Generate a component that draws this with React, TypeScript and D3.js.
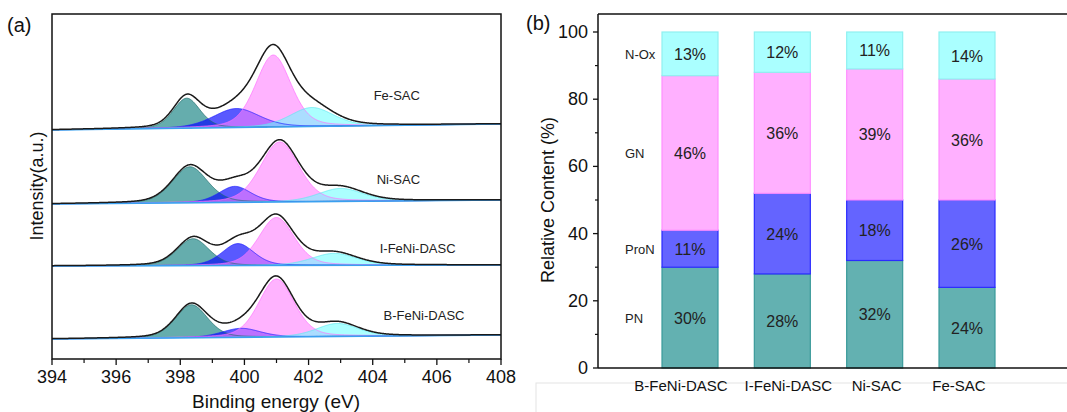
import React from "react";
import * as d3 from "d3";

// ---------- Panel (a): XPS N 1s fits ----------
const samples = ["B-FeNi-DASC", "I-FeNi-DASC", "Ni-SAC", "Fe-SAC"];
const componentNames = ["PN", "ProN", "GN", "N-Ox"];
// baseline (intensity offset) at 394 eV and 408 eV
const baseStart = [20, 93, 155, 229];
const baseEnd = [24, 94, 159, 235];
// peak centers (eV), heights (a.u.), widths (sigma, eV) per sample
const peakCenters = [
  [398.35, 399.9, 401.0, 402.9],
  [398.4, 399.8, 401.0, 402.8],
  [398.3, 399.7, 401.1, 403.0],
  [398.2, 399.75, 400.9, 402.1],
];
const peakHeights = [
  [33, 9, 58, 13],
  [27, 22, 48, 12],
  [36, 16, 60, 13],
  [30, 19, 72, 19],
];
const peakWidths = [
  [0.5, 0.6, 0.55, 0.65],
  [0.5, 0.5, 0.55, 0.7],
  [0.55, 0.5, 0.6, 0.7],
  [0.42, 0.72, 0.55, 0.68],
];
const energyTicks = [394, 396, 398, 400, 402, 404, 406, 408];

// ---------- Panel (b): relative content ----------
const categories = ["B-FeNi-DASC", "I-FeNi-DASC", "Ni-SAC", "Fe-SAC"];
const pnValues = [30, 28, 32, 24];
const pronValues = [11, 24, 18, 26];
const gnValues = [46, 36, 39, 36];
const noxValues = [13, 12, 11, 14];
const contentTicks = [0, 20, 40, 60, 80, 100];

const FONT = "'Liberation Sans', Arial, Helvetica, sans-serif";

const fillColors = ["#2a8d8d", "#0000ff", "#ff80ff", "#66ffff"];
const fillOpacity = [0.72, 0.65, 0.6, 0.55];
const edgeColors = ["#1d6b6b", "#1a1aff", "#ff70ff", "#5ee8f0"];

const barColors = ["#63b1b1", "#6464ff", "#ffb0ff", "#aaffff"];
const barStroke = ["#3a9a9a", "#2b2bff", "#ff90ff", "#90f0f0"];

function gl(e: number, c: number, h: number, s: number) {
  const dx = e - c;
  const g = Math.exp(-0.5 * (dx / s) * (dx / s));
  const gamma = s * 1.1774;
  const l = 1 / (1 + (dx / gamma) * (dx / gamma));
  return h * (0.7 * g + 0.3 * l);
}

export default function App() {
  // ---- panel (a) scales
  const xA = d3.scaleLinear().domain([394, 408]).range([52, 501]);
  const yA = d3.scaleLinear().domain([0, 345]).range([359, 14]);
  const grid = d3.range(394, 408.0001, 0.02);

  const labelAnchor = [
    { e: 405.6, dy: 19 },
    { e: 405.4, dy: 13 },
    { e: 404.8, dy: 20 },
    { e: 404.75, dy: 30 },
  ];

  const spectra = samples.map((name, si) => {
    const base = (e: number) =>
      baseStart[si] + ((baseEnd[si] - baseStart[si]) * (e - 394)) / 14;
    const comps = componentNames.map((_, ci) => {
      const f = (e: number) =>
        gl(e, peakCenters[si][ci], peakHeights[si][ci], peakWidths[si][ci]);
      const area = d3
        .area<number>()
        .x((e) => xA(e))
        .y0((e) => yA(base(e)))
        .y1((e) => yA(base(e) + f(e)));
      const top = d3
        .line<number>()
        .x((e) => xA(e))
        .y((e) => yA(base(e) + f(e)));
      return { area: area(grid) || "", top: top(grid) || "" };
    });
    const env = d3
      .line<number>()
      .x((e) => xA(e))
      .y((e) => {
        let s = base(e);
        componentNames.forEach((_, ci) => {
          s += gl(e, peakCenters[si][ci], peakHeights[si][ci], peakWidths[si][ci]);
        });
        return yA(s);
      })(grid) || "";
    const baseLine = d3
      .line<number>()
      .x((e) => xA(e))
      .y((e) => yA(base(e)))([394, 408]) || "";
    const lx = xA(labelAnchor[si].e);
    const ly = yA(baseStart[si]) - labelAnchor[si].dy;
    return { name, comps, env, baseLine, lx, ly };
  });

  // ---- panel (b) scales
  const xB = d3.scalePoint<string>().domain(categories).range([690, 967]);
  const yB = d3.scaleLinear().domain([0, 100]).range([368, 32]);
  const barW = 56;
  const table = categories.map((c, i) => ({
    cat: c,
    PN: pnValues[i],
    ProN: pronValues[i],
    GN: gnValues[i],
    "N-Ox": noxValues[i],
  }));
  const stacked = d3.stack<any>().keys(componentNames)(table);
  const minorB = d3.range(10, 100, 20);
  const minorA = d3.range(395, 408, 2);
  const catLabelShift = [-9, 6, 2, -8];

  return (
    <svg
      width={1067}
      height={412}
      style={{ position: "absolute", left: 0, top: 0, background: "#fff" }}
      fontFamily={FONT}
    >
      {/* ================= Panel (a) ================= */}
      <text x={7} y={32} fontSize={20} fill="#111">(a)</text>
      <clipPath id="clipA">
        <rect x={52} y={14} width={449} height={345} />
      </clipPath>
      <g clipPath="url(#clipA)">
        {spectra.map((sp) => (
          <g key={sp.name}>
            {sp.comps.map((c, ci) => (
              <path
                key={ci}
                d={c.area}
                fill={fillColors[ci]}
                fillOpacity={fillOpacity[ci]}
                stroke="none"
              />
            ))}
            {sp.comps.map((c, ci) => (
              <path
                key={"t" + ci}
                d={c.top}
                fill="none"
                stroke={edgeColors[ci]}
                strokeWidth={0.9}
                strokeOpacity={0.8}
              />
            ))}
            <path d={sp.baseLine} stroke="#3aa0f0" strokeWidth={1.6} fill="none" />
            <path d={sp.env} stroke="#1a1a1a" strokeWidth={1.5} fill="none" />
          </g>
        ))}
      </g>
      {spectra.map((sp) => (
        <text
          key={"l" + sp.name}
          x={sp.lx}
          y={sp.ly}
          fontSize={13}
          textAnchor="middle"
          fill="#222"
        >
          {sp.name}
        </text>
      ))}
      <rect x={52} y={14} width={449} height={345} fill="none" stroke="#111" strokeWidth={1.5} />
      {energyTicks.map((t) => (
        <g key={"xa" + t}>
          <line x1={xA(t)} x2={xA(t)} y1={359} y2={365} stroke="#111" strokeWidth={1.3} />
          <text x={xA(t)} y={383} fontSize={18} textAnchor="middle" fill="#111">
            {t}
          </text>
        </g>
      ))}
      {minorA.map((t) => (
        <line key={"ma" + t} x1={xA(t)} x2={xA(t)} y1={359} y2={363} stroke="#111" strokeWidth={1.2} />
      ))}
      <text x={276} y={408} fontSize={19} textAnchor="middle" fill="#111">
        Binding energy (eV)
      </text>
      <text
        transform="translate(43,186) rotate(-90)"
        fontSize={18}
        textAnchor="middle"
        fill="#111"
      >
        Intensity(a.u.)
      </text>

      {/* ================= Panel (b) ================= */}
      <rect x={536} y={383} width={540} height={40} fill="none" stroke="#e4e4e4" strokeWidth={1} />
      <text x={526} y={30} fontSize={20} fill="#111">(b)</text>
      {stacked.map((layer, li) =>
        layer.map((d, i) => (
          <rect
            key={layer.key + i}
            x={(xB(categories[i]) as number) - barW / 2}
            y={yB(d[1])}
            width={barW}
            height={yB(d[0]) - yB(d[1])}
            fill={barColors[li]}
            stroke={barStroke[li]}
            strokeWidth={1.2}
          />
        ))
      )}
      {stacked.map((layer) =>
        layer.map((d, i) => (
          <text
            key={"p" + layer.key + i}
            x={xB(categories[i]) as number}
            y={yB((d[0] + d[1]) / 2) + 6}
            fontSize={16}
            textAnchor="middle"
            fill="#222"
          >
            {`${d[1] - d[0]}%`}
          </text>
        ))
      )}
      {stacked.map((layer) => (
        <text
          key={"n" + layer.key}
          x={625}
          y={yB((layer[0][0] + layer[0][1]) / 2) + 5}
          fontSize={13}
          fill="#222"
        >
          {layer.key}
        </text>
      ))}
      <line x1={598} x2={1067} y1={14} y2={14} stroke="#111" strokeWidth={1.5} />
      <line x1={598} x2={598} y1={14} y2={368} stroke="#111" strokeWidth={1.5} />
      <line x1={598} x2={1067} y1={368} y2={368} stroke="#111" strokeWidth={1.5} />
      {contentTicks.map((t) => (
        <g key={"yb" + t}>
          <line x1={593} x2={598} y1={yB(t)} y2={yB(t)} stroke="#111" strokeWidth={1.3} />
          <text x={588} y={yB(t) + 6} fontSize={18} textAnchor="end" fill="#111">
            {t}
          </text>
        </g>
      ))}
      {minorB.map((t) => (
        <line key={"mb" + t} x1={595} x2={598} y1={yB(t)} y2={yB(t)} stroke="#111" strokeWidth={1.2} />
      ))}
      {categories.map((c, i) => (
        <text
          key={"c" + c}
          x={(xB(c) as number) + catLabelShift[i]}
          y={391}
          fontSize={15}
          textAnchor="middle"
          fill="#111"
        >
          {c}
        </text>
      ))}
      <text
        transform="translate(554,200) rotate(-90)"
        fontSize={18}
        textAnchor="middle"
        fill="#111"
      >
        Relative Content (%)
      </text>
    </svg>
  );
}
